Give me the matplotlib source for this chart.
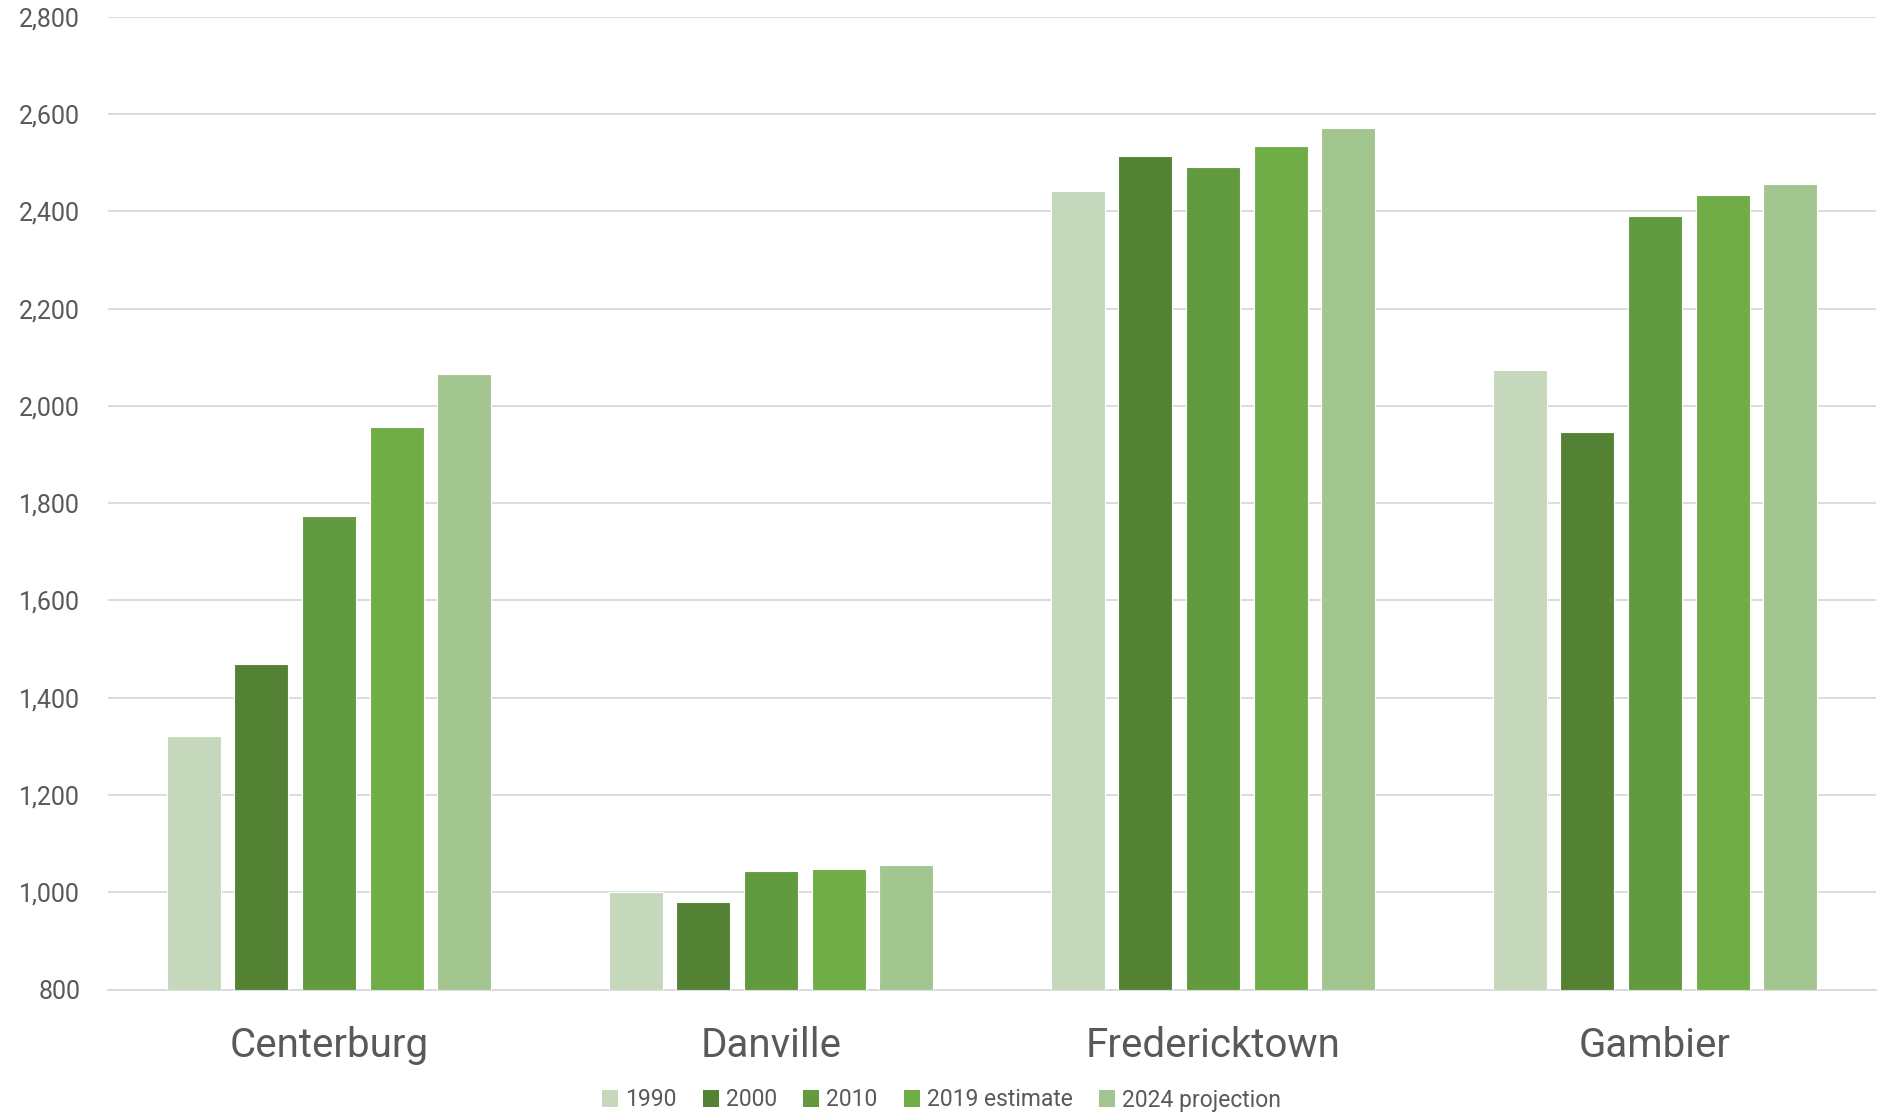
import matplotlib.pyplot as plt
import numpy as np
from matplotlib.patches import Patch

# Population by village, Knox County
places = ["Centerburg", "Danville", "Fredericktown", "Gambier"]
series = ["1990", "2000", "2010", "2019 estimate", "2024 projection"]
pop_1990 = [1321, 1001, 2441, 2073]
pop_2000 = [1469, 980, 2513, 1946]
pop_2010 = [1774, 1044, 2491, 2391]
pop_2019 = [1957, 1048, 2535, 2434]
pop_2024 = [2066, 1056, 2571, 2456]
y_ticks = [800, 1000, 1200, 1400, 1600, 1800, 2000, 2200, 2400, 2600, 2800]

values = [pop_1990, pop_2000, pop_2010, pop_2019, pop_2024]
colors = ["#C5D8BC", "#548235", "#629A3F", "#70AD47", "#A3C58F"]

plt.rcParams["font.family"] = ["Roboto", "DejaVu Sans"]
text_color = "#595959"

fig = plt.figure(figsize=(18.83, 11.14), dpi=100)
ax = fig.add_axes([108 / 1883, 1 - 989.6 / 1114, (1876 - 108) / 1883, (989.6 - 16.8) / 1114])

x = np.arange(len(places))
width = 0.122
step = 0.153
for i, (vals, col) in enumerate(zip(values, colors)):
    offs = (i - 2) * step
    ax.bar(x + offs, np.array(vals) - 800, bottom=800, width=width, color=col,
           edgecolor="white", linewidth=0.8, zorder=3)

ax.set_xlim(-0.5, len(places) - 0.5)
ax.set_ylim(800, 2800)
ax.set_yticks(y_ticks)
ax.set_yticklabels([f"{v:,}" for v in y_ticks], fontsize=18, color=text_color)
ax.set_xticks(x)
ax.set_xticklabels(places, fontsize=29, color=text_color)
ax.tick_params(axis="both", length=0)
ax.tick_params(axis="y", pad=20)
ax.tick_params(axis="x", pad=26)
ax.yaxis.grid(True, color="#D9D9D9", linewidth=1.3, zorder=0)
for s in ["top", "right", "left"]:
    ax.spines[s].set_visible(False)
ax.spines["bottom"].set_color("#D9D9D9")
ax.spines["bottom"].set_linewidth(1.3)

handles = [Patch(facecolor=c, edgecolor="none") for c in colors]
fig.legend(handles, series, loc="center", bbox_to_anchor=(0.5, 1 - 1100 / 1114),
           ncol=5, frameon=False, fontsize=16.5, labelcolor=text_color,
           handlelength=0.7, handleheight=0.7, handletextpad=0.3, columnspacing=1.15)

fig.savefig("out.png", dpi=100, facecolor="white")
